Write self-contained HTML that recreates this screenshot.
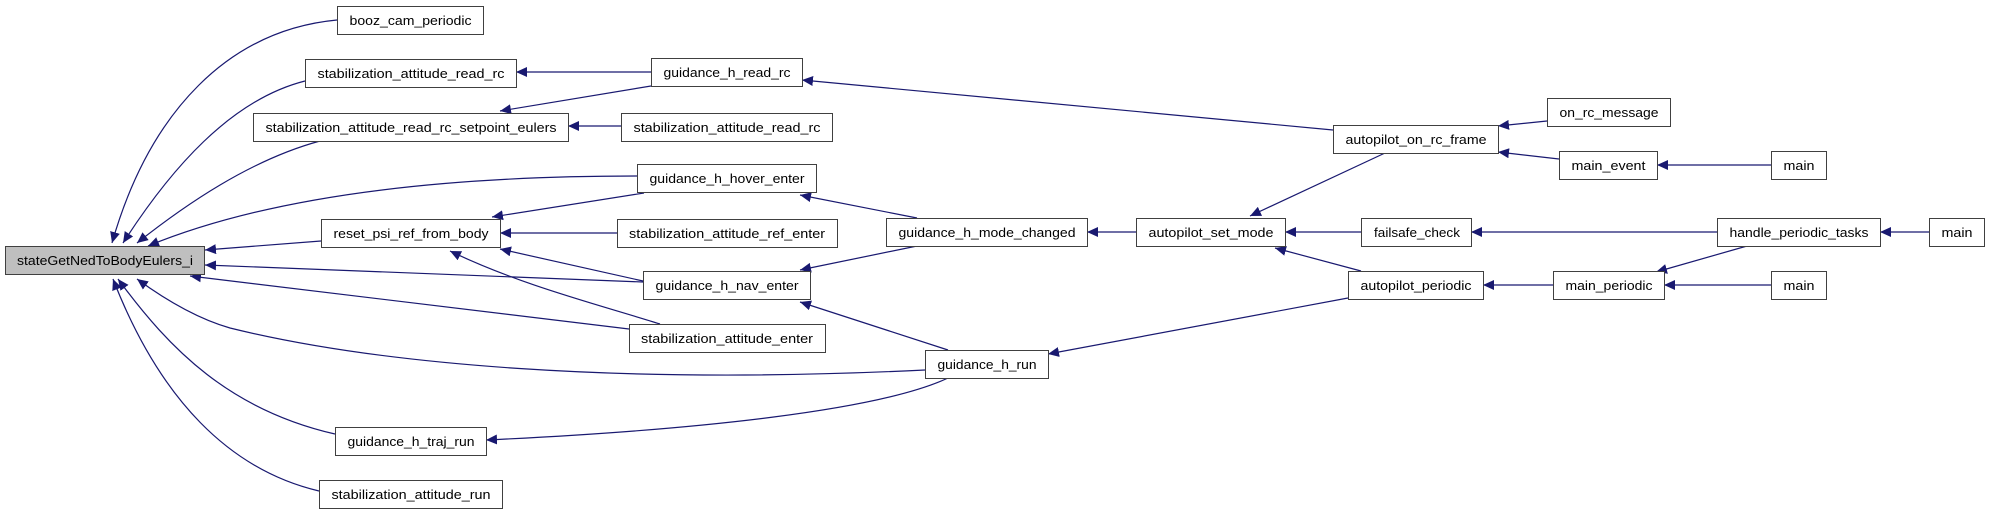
<!DOCTYPE html>
<html><head><meta charset="utf-8"><style>
html,body{margin:0;padding:0;background:#fff;}
svg{display:block;}
text{font-family:"Liberation Sans",sans-serif;font-size:13px;fill:#000;}
</style></head><body>
<svg width="1989" height="515" viewBox="0 0 1989 515" xmlns="http://www.w3.org/2000/svg">
<defs>
<marker id="a" markerWidth="12" markerHeight="10" refX="11" refY="5" orient="auto" markerUnits="userSpaceOnUse">
<path d="M0,0 L11,5 L0,10 Z" fill="#191970"/>
</marker>
</defs>
<g fill="none" stroke="#191970" stroke-width="1.2" marker-end="url(#a)">
<path d="M337,20 C230,30 150,110 112,243"/>
<path d="M305,81 C230,100 170,170 123,243"/>
<path d="M320,141 C250,160 185,205 137,243"/>
<path d="M637,176 C420,176 260,200 148,246"/>
<path d="M321,241 L205,250"/>
<path d="M643,282 L205,265"/>
<path d="M629,329 L190,276"/>
<path d="M925,370 C620,385 380,365 230,328 C195,318 163,298 137,279"/>
<path d="M335,434 C230,410 170,350 118,279"/>
<path d="M319,491 C230,470 160,400 113,279"/>
<path d="M651,72 L516,72"/>
<path d="M651,86 L500,111"/>
<path d="M621,126 L568,126"/>
<path d="M644,193 L492,217"/>
<path d="M617,233 L500,233"/>
<path d="M643,281 L500,249"/>
<path d="M660,324 C600,305 520,285 450,251"/>
<path d="M948,350 L800,302"/>
<path d="M948,378 C880,410 700,430 486,440"/>
<path d="M917,218 L800,195"/>
<path d="M917,246 L800,270"/>
<path d="M1136,232 L1087,232"/>
<path d="M1333,130 L802,80"/>
<path d="M1385,153 L1250,216"/>
<path d="M1361,232 L1285,232"/>
<path d="M1361,271 L1275,248"/>
<path d="M1348,298 L1048,354"/>
<path d="M1547,121 L1498,126"/>
<path d="M1559,159 L1498,152"/>
<path d="M1771,165 L1657,165"/>
<path d="M1717,232 L1471,232"/>
<path d="M1929,232 L1880,232"/>
<path d="M1747,246 L1656,272"/>
<path d="M1553,285 L1483,285"/>
<path d="M1771,285 L1664,285"/>
</g>
<g stroke="#404040" stroke-width="1" fill="#fff">
<rect x="5.5" y="246.5" width="199" height="28" fill="#bfbfbf"/>
<rect x="337.5" y="6.5" width="146" height="28"/>
<rect x="305.5" y="59.5" width="211" height="28"/>
<rect x="253.5" y="113.5" width="315" height="28"/>
<rect x="321.5" y="219.5" width="179" height="28"/>
<rect x="335.5" y="427.5" width="151" height="28"/>
<rect x="319.5" y="480.5" width="183" height="28"/>
<rect x="651.5" y="58.5" width="151" height="28"/>
<rect x="621.5" y="113.5" width="211" height="28"/>
<rect x="637.5" y="164.5" width="179" height="28"/>
<rect x="617.5" y="219.5" width="220" height="28"/>
<rect x="643.5" y="271.5" width="167" height="28"/>
<rect x="629.5" y="324.5" width="196" height="28"/>
<rect x="925.5" y="350.5" width="123" height="28"/>
<rect x="886.5" y="218.5" width="201" height="28"/>
<rect x="1136.5" y="218.5" width="149" height="28"/>
<rect x="1333.5" y="125.5" width="165" height="28"/>
<rect x="1361.5" y="218.5" width="110" height="28"/>
<rect x="1348.5" y="271.5" width="135" height="28"/>
<rect x="1547.5" y="98.5" width="123" height="28"/>
<rect x="1559.5" y="151.5" width="98" height="28"/>
<rect x="1771.5" y="151.5" width="55" height="28"/>
<rect x="1717.5" y="218.5" width="163" height="28"/>
<rect x="1929.5" y="218.5" width="55" height="28"/>
<rect x="1553.5" y="271.5" width="111" height="28"/>
<rect x="1771.5" y="271.5" width="55" height="28"/>
</g>
<g text-anchor="middle">
<text x="105" y="265" textLength="176" lengthAdjust="spacingAndGlyphs">stateGetNedToBodyEulers_i</text>
<text x="410.5" y="25" textLength="122" lengthAdjust="spacingAndGlyphs">booz_cam_periodic</text>
<text x="411" y="78" textLength="187" lengthAdjust="spacingAndGlyphs">stabilization_attitude_read_rc</text>
<text x="411" y="132" textLength="291" lengthAdjust="spacingAndGlyphs">stabilization_attitude_read_rc_setpoint_eulers</text>
<text x="411" y="238" textLength="155" lengthAdjust="spacingAndGlyphs">reset_psi_ref_from_body</text>
<text x="411" y="446" textLength="127" lengthAdjust="spacingAndGlyphs">guidance_h_traj_run</text>
<text x="411" y="499" textLength="159" lengthAdjust="spacingAndGlyphs">stabilization_attitude_run</text>
<text x="727" y="77" textLength="127" lengthAdjust="spacingAndGlyphs">guidance_h_read_rc</text>
<text x="727" y="132" textLength="187" lengthAdjust="spacingAndGlyphs">stabilization_attitude_read_rc</text>
<text x="727" y="183" textLength="155" lengthAdjust="spacingAndGlyphs">guidance_h_hover_enter</text>
<text x="727" y="238" textLength="196" lengthAdjust="spacingAndGlyphs">stabilization_attitude_ref_enter</text>
<text x="727" y="290" textLength="143" lengthAdjust="spacingAndGlyphs">guidance_h_nav_enter</text>
<text x="727" y="343" textLength="172" lengthAdjust="spacingAndGlyphs">stabilization_attitude_enter</text>
<text x="987" y="369" textLength="99" lengthAdjust="spacingAndGlyphs">guidance_h_run</text>
<text x="987" y="237" textLength="177" lengthAdjust="spacingAndGlyphs">guidance_h_mode_changed</text>
<text x="1211" y="237" textLength="125" lengthAdjust="spacingAndGlyphs">autopilot_set_mode</text>
<text x="1416" y="144" textLength="141" lengthAdjust="spacingAndGlyphs">autopilot_on_rc_frame</text>
<text x="1417" y="237" textLength="86" lengthAdjust="spacingAndGlyphs">failsafe_check</text>
<text x="1416" y="290" textLength="111" lengthAdjust="spacingAndGlyphs">autopilot_periodic</text>
<text x="1609" y="117" textLength="99" lengthAdjust="spacingAndGlyphs">on_rc_message</text>
<text x="1608.5" y="170" textLength="74" lengthAdjust="spacingAndGlyphs">main_event</text>
<text x="1799" y="170" textLength="31" lengthAdjust="spacingAndGlyphs">main</text>
<text x="1799" y="237" textLength="139" lengthAdjust="spacingAndGlyphs">handle_periodic_tasks</text>
<text x="1957" y="237" textLength="31" lengthAdjust="spacingAndGlyphs">main</text>
<text x="1609" y="290" textLength="87" lengthAdjust="spacingAndGlyphs">main_periodic</text>
<text x="1799" y="290" textLength="31" lengthAdjust="spacingAndGlyphs">main</text>
</g>
</svg>
</body></html>
